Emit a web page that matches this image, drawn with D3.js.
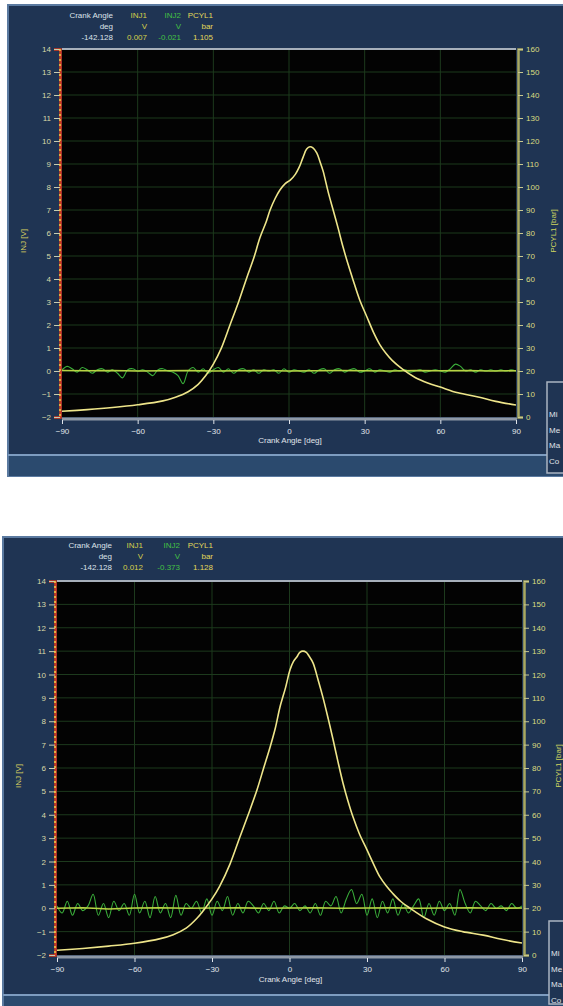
<!DOCTYPE html>
<html><head><meta charset="utf-8">
<script src="https://cdn.jsdelivr.net/npm/d3@7"></script>
<style>html,body{margin:0;padding:0;background:#fff;}svg{display:block;font-family:"Liberation Sans",Arial,sans-serif;}</style>
</head><body>
<svg id="c" width="563" height="1006"></svg>
<script>
// ---------- data ----------
const angleTicks = [-90, -60, -30, 0, 30, 60, 90];
const injTicks = [-2, -1, 0, 1, 2, 3, 4, 5, 6, 7, 8, 9, 10, 11, 12, 13, 14];
const pcylTicks = [0, 10, 20, 30, 40, 50, 60, 70, 80, 90, 100, 110, 120, 130, 140, 150, 160];
const headerNames = ["Crank Angle", "INJ1", "INJ2", "PCYL1"];
const headerUnits = ["deg", "V", "V", "bar"];
const readout1 = ["-142.128", "0.007", "-0.021", "1.105"];
const readout2 = ["-142.128", "0.012", "-0.373", "1.128"];
const legendRows = ["Mi", "Me", "Ma", "Co"];

// Cylinder pressure (bar) – panel 1
const pcyl1Angles = [-90,-80,-70,-60,-50,-45,-40,-36,-33,-30,-27,-23.4,-20,-16.6,-14,-11.5,-9,-7.5,-5.5,-3.6,-1.5,0.5,2.5,4,5.6,7,8.3,9.5,11,12.3,13.5,15.5,17.5,19.5,21.4,23.4,25.4,28,30.9,33.5,36,38.5,41,45,50,55,60,67,75,82,90];
const pcyl1Values = [2.5,3.2,4.1,5.3,7.0,8.6,11,14.2,18,23,29.5,40,50,61,69,78,85,90,95,98.7,101.5,103,105.5,108.5,113,116.5,117.5,117,114.8,111,107,98,90,82,74,66.5,59.6,51,43.5,36.8,31.5,27.6,24.5,20.8,17.2,14.8,13,10.5,8.7,6.8,5.2];
// Cylinder pressure (bar) – panel 2
const pcyl2Angles = [-90,-80,-70,-60,-50,-45,-40,-36,-33,-30,-27,-23,-19.2,-16,-12.6,-10,-7.5,-5.5,-3.7,-1.5,0.2,1.5,2.9,4,5.2,6.5,7.5,9.1,11,13,15,16.9,18.8,20.7,22.6,24.6,27,30,32.5,35,37.5,40,43,46.7,53,60,67,75,82,90];
const pcyl2Values = [2.0,2.8,3.8,5.0,7.0,8.7,11.5,15.5,19.5,24,29.5,39,50.5,60,70.6,80,89,97,106,114.5,122,125.5,127.6,129.5,130,129.5,128,125,118,110,101,92,82.5,73.6,66,59,52,45,39,33.4,29.5,26.3,23,20,15.5,12,10,8.5,6.7,5.1];

// INJ2 signal (V), sampled every 2 deg from -90 to 90
const inj2Angles = d3.range(-90, 91, 2);
const inj2Values1 = [0.05,0.2,0.1,-0.05,0.15,0.05,-0.1,0.05,0.1,-0.05,0.05,-0.1,-0.3,0.05,0.1,0.0,0.05,-0.05,-0.2,0.05,0.1,0.0,-0.05,-0.2,-0.55,0.0,0.15,-0.05,0.1,-0.1,0.05,0.15,-0.05,0.1,-0.1,0.05,0.1,-0.05,0.05,-0.1,0.05,0.0,0.05,-0.1,0.1,-0.05,0.05,0.0,-0.05,0.05,-0.1,0.05,0.1,-0.1,0.05,0.1,-0.05,0.05,0.1,-0.05,0.0,0.1,-0.05,0.05,0.0,-0.05,0.05,0.0,0.05,-0.05,0.0,0.05,-0.05,0.0,0.05,0.0,-0.05,0.1,0.3,0.2,0.0,0.05,-0.05,0.05,0.0,0.05,0.0,0.05,0.0,0.05,0.0];
const inj2Values2 = [0.1,-0.2,0.3,-0.3,0.2,-0.1,0.1,0.6,-0.3,0.2,-0.4,0.3,-0.1,0.2,-0.3,0.6,-0.2,0.3,-0.4,0.5,-0.2,0.2,-0.4,0.55,-0.3,0.2,0.0,0.3,-0.2,0.4,-0.3,0.3,-0.1,0.5,-0.3,0.2,-0.2,0.3,0.1,-0.2,0.2,-0.1,0.3,-0.2,0.1,0.0,0.2,-0.1,0.1,-0.2,0.2,-0.3,0.3,0.1,0.5,-0.2,0.4,0.8,0.2,0.6,-0.3,0.4,-0.4,0.3,-0.2,0.4,-0.3,0.2,-0.2,0.1,0.4,-0.4,0.2,-0.3,0.3,-0.1,0.2,-0.3,0.8,0.2,-0.2,0.3,0.1,-0.1,0.2,0.0,0.1,-0.1,0.2,0.0,0.1];

// INJ1 signal (V), sampled every 10 deg
const inj1Angles = [-90,-80,-70,-60,-50,-40,-30,-20,-10,0,10,20,30,40,50,60,70,80,90];
const inj1Values1 = [0.02,0.01,0.02,0.0,0.01,0.02,0.0,0.01,0.02,0.0,0.01,0.02,0.01,0.0,0.02,0.01,0.02,0.0,0.01];
const inj1Values2 = [0.0,0.02,-0.03,0.01,0.02,0.0,0.01,0.02,0.0,0.01,0.02,0.0,0.01,0.02,0.0,0.01,0.02,0.0,0.01];

// ---------- drawing ----------
const svg = d3.select("#c");
const panels = [
  {frame:{x:8,y:5,h:471}, sep:455, plot:{x0:62,x1:516,top:49,bot:417},
   hdr:[18,29,40], cols:[113,147,181,213], readout:readout1,
   xlab:430, xtitle:443, injTitleX:26, pTitleX:556, legend:{x:547,y:382},
   pa:pcyl1Angles, pv:pcyl1Values, i2:inj2Values1, i1:inj1Values1},
  {frame:{x:3,y:537,h:470}, sep:995, plot:{x0:57,x1:522,top:581,bot:955},
   hdr:[548,559,570], cols:[112,143,180,213], readout:readout2,
   xlab:970, xtitle:982, injTitleX:21, pTitleX:561, legend:{x:549,y:921},
   pa:pcyl2Angles, pv:pcyl2Values, i2:inj2Values2, i1:inj1Values2}
];
const colCols = ["#dde3ea", "#d6cf4a", "#44c044", "#e2d85a"];

panels.forEach((p, k) => {
  const g = svg.append("g");
  // frame
  g.append("rect").attr("x", p.frame.x).attr("y", p.frame.y).attr("width", 600).attr("height", p.frame.h)
    .attr("fill", "#1f3453").attr("stroke", "#5b7aa0").attr("stroke-width", 2);
  g.append("rect").attr("x", p.frame.x + 1).attr("y", p.sep).attr("width", 600).attr("height", p.frame.y + p.frame.h - p.sep)
    .attr("fill", "#2b4a6e");
  g.append("line").attr("x1", p.frame.x).attr("x2", 563).attr("y1", p.sep).attr("y2", p.sep)
    .attr("stroke", "#7d9cc0").attr("stroke-width", 2);

  const x = d3.scaleLinear().domain([-90, 90]).range([p.plot.x0, p.plot.x1]);
  const yI = d3.scaleLinear().domain([-2, 14]).range([p.plot.bot, p.plot.top]);
  const yP = d3.scaleLinear().domain([0, 160]).range([p.plot.bot, p.plot.top]);

  // plot background
  g.append("rect").attr("x", p.plot.x0).attr("y", p.plot.top).attr("width", p.plot.x1 - p.plot.x0)
    .attr("height", p.plot.bot - p.plot.top).attr("fill", "#030303");
  // grid
  g.append("g").selectAll("line").data(injTicks.slice(1, -1)).join("line")
    .attr("x1", p.plot.x0).attr("x2", p.plot.x1).attr("y1", d => yI(d)).attr("y2", d => yI(d))
    .attr("stroke", "#1d3a1d").attr("stroke-width", 1);
  g.append("g").selectAll("line").data(angleTicks.slice(1, -1)).join("line")
    .attr("y1", p.plot.top).attr("y2", p.plot.bot).attr("x1", d => x(d)).attr("x2", d => x(d))
    .attr("stroke", "#1d3a1d").attr("stroke-width", 1);

  const clipId = "clip" + k;
  svg.append("clipPath").attr("id", clipId).append("rect")
    .attr("x", p.plot.x0).attr("y", p.plot.top - 2).attr("width", p.plot.x1 - p.plot.x0).attr("height", p.plot.bot - p.plot.top + 2);
  const cg = g.append("g").attr("clip-path", `url(#${clipId})`);

  // INJ2 (green)
  cg.append("path").datum(inj2Angles.map((a, i) => [a, p.i2[i]]))
    .attr("d", d3.line().x(d => x(d[0])).y(d => yI(d[1])).curve(d3.curveCatmullRom.alpha(0.5)))
    .attr("fill", "none").attr("stroke", "#3aae3a").attr("stroke-width", 1.1);
  // INJ1 (yellow-green flat)
  cg.append("path").datum(inj1Angles.map((a, i) => [a, p.i1[i]]))
    .attr("d", d3.line().x(d => x(d[0])).y(d => yI(d[1])).curve(d3.curveLinear))
    .attr("fill", "none").attr("stroke", "#b8d244").attr("stroke-width", 1.6);
  // PCYL1 (pale yellow)
  cg.append("path").datum(p.pa.map((a, i) => [a, p.pv[i]]))
    .attr("d", d3.line().x(d => x(d[0])).y(d => yP(d[1])).curve(d3.curveCatmullRom.alpha(0.5)))
    .attr("fill", "none").attr("stroke", "#eee58a").attr("stroke-width", 1.6);

  // plot borders
  g.append("line").attr("x1", p.plot.x0).attr("x2", p.plot.x1).attr("y1", p.plot.top).attr("y2", p.plot.top)
    .attr("stroke", "#a7b0bb").attr("stroke-width", 2);
  g.append("line").attr("x1", p.plot.x0).attr("x2", p.plot.x1 + 1).attr("y1", p.plot.bot + 2).attr("y2", p.plot.bot + 2)
    .attr("stroke", "#8e98a6").attr("stroke-width", 3);

  // left axis
  const la = g.append("g").attr("transform", `translate(${p.plot.x0 - 2},0)`)
    .call(d3.axisLeft(yI).tickValues(injTicks).tickSize(6).tickPadding(3).tickFormat(d3.format("d")));
  la.select(".domain").attr("stroke", "#d23a22").attr("stroke-width", 2.5);
  la.append("line").attr("x1", 0).attr("x2", 0).attr("y1", p.plot.top).attr("y2", p.plot.bot)
    .attr("stroke", "#e8d84a").attr("stroke-width", 1.5).attr("stroke-dasharray", "2,3");
  la.selectAll(".tick line").attr("stroke", "#c8ccb0");
  la.selectAll(".tick text").attr("fill", "#d9d9a8").attr("font-size", 8);

  // right axis
  const ra = g.append("g").attr("transform", `translate(${p.plot.x1 + 2},0)`)
    .call(d3.axisRight(yP).tickValues(pcylTicks).tickSize(5).tickPadding(3).tickFormat(d3.format("d")));
  ra.select(".domain").attr("stroke", "#a9a860").attr("stroke-width", 2.5);
  ra.selectAll(".tick line").attr("stroke", "#c8c890");
  ra.selectAll(".tick text").attr("fill", "#dcdc80").attr("font-size", 8);

  // bottom axis
  const ba = g.append("g").attr("transform", `translate(0,${p.plot.bot + 3})`)
    .call(d3.axisBottom(x).tickValues(angleTicks).tickSize(4).tickPadding(4).tickFormat(d3.format("d")));
  ba.select(".domain").remove();
  ba.selectAll(".tick line").attr("stroke", "#e0e4ea");
  ba.selectAll(".tick text").attr("fill", "#e0e4ea").attr("font-size", 8);

  // axis titles
  g.append("text").attr("x", (p.plot.x0 + p.plot.x1) / 2 + 1).attr("y", p.xtitle).attr("text-anchor", "middle")
    .attr("fill", "#e0e4ea").attr("font-size", 8).text("Crank Angle [deg]");
  const ym = (p.plot.top + p.plot.bot) / 2 + 8;
  g.append("text").attr("transform", `translate(${p.injTitleX},${ym}) rotate(-90)`).attr("text-anchor", "middle")
    .attr("fill", "#d8d060").attr("font-size", 8).text("INJ [V]");
  g.append("text").attr("transform", `translate(${p.pTitleX},${ym - 10}) rotate(-90)`).attr("text-anchor", "middle")
    .attr("fill", "#cfd460").attr("font-size", 8).text("PCYL1 [bar]");

  // header readouts
  headerNames.forEach((n, i) => {
    const rows = [n, headerUnits[i], p.readout[i]];
    rows.forEach((t, r) => {
      g.append("text").attr("x", p.cols[i]).attr("y", p.hdr[r]).attr("text-anchor", "end")
        .attr("fill", colCols[i]).attr("font-size", 8).text(t);
    });
  });

  // legend box (clipped at the right edge)
  g.append("rect").attr("x", p.legend.x).attr("y", p.legend.y).attr("width", 40).attr("height", p.frame.y + p.frame.h - p.legend.y - 3)
    .attr("fill", "#1f3453").attr("stroke", "#aab4c2").attr("stroke-width", 1.5);
  legendRows.forEach((t, i) => {
    g.append("text").attr("x", p.legend.x + 2).attr("y", p.legend.y + 35 + i * 15.5)
      .attr("fill", "#e0e4ea").attr("font-size", 8).text(t);
  });
});
</script>
</body></html>
